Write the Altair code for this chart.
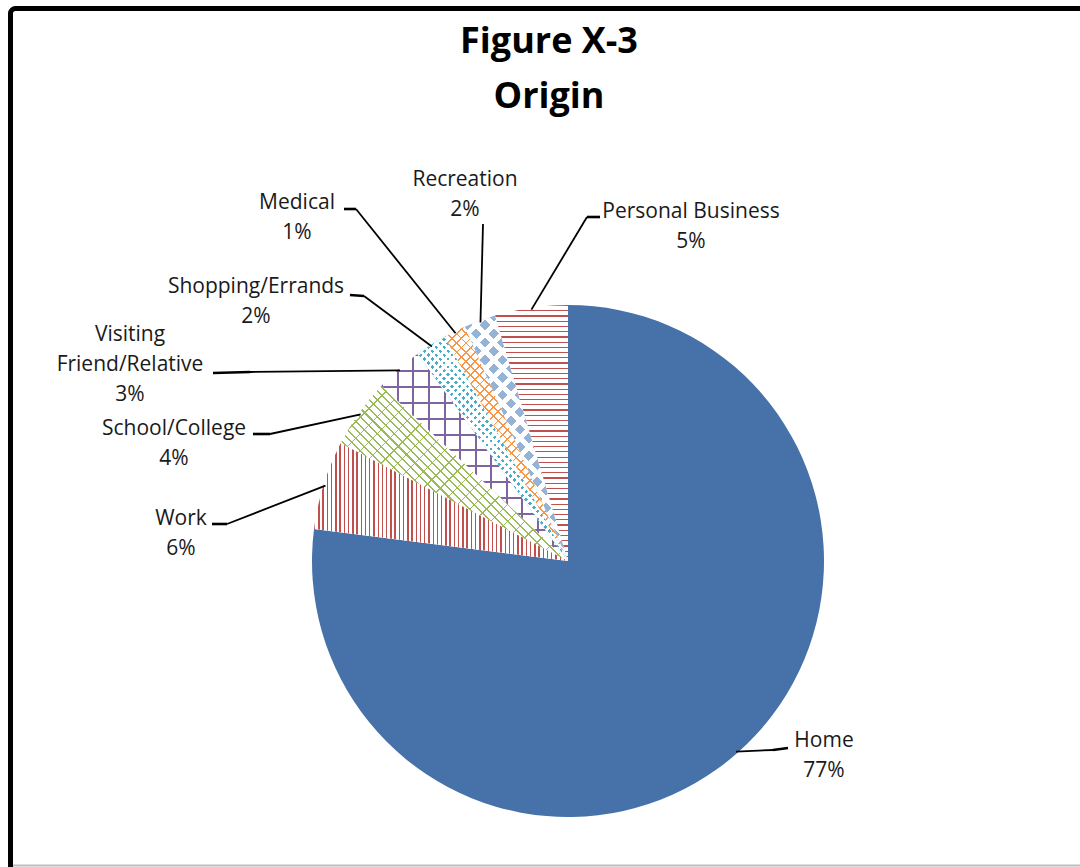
import math
import altair as alt
import pandas as pd

# ---------------- data ----------------
categories = ["Home", "Work", "School/College", "Visiting Friend/Relative",
              "Shopping/Errands", "Medical", "Recreation", "Personal Business"]
label_names = ["Home", "Work", "School/College", "Visiting\nFriend/Relative",
               "Shopping/Errands", "Medical", "Recreation", "Personal Business"]
values = [77.0, 5.6, 4.4, 3.0, 2.0, 1.4, 2.0, 4.6]
title_lines = "Figure X-3\nOrigin"

# ---------------- layout / style ----------------
CX, CY, R = 568, 561, 256
label_x = [824, 181, 174, 130, 256, 297, 465, 691]
label_y = [747, 525, 435, 341, 293, 209, 186, 218]
anchor_x = [788, 212, 253, 213, 350, 344, 483, 600]
anchor_y = [748, 524, 434, 373, 295, 209, 224, 217]
elbow_x = [773, 227, 270, 250, 364, 356, 483, 587]
elbow_y = [750, 524, 434, 372, 296, 209, 224, 217]

base_colors = ["#4672a9", "#ffffff", "#ffffff", "#ffffff",
               "#4bacc6", "#ffffff", "#95b3d7", "#ffffff"]

patterns = {
    "Work": [("v", "#c0504d", 4.2, 1.4)],
    "School/College": [("bs", "#9bbb59", 6.0, 1.5), ("fs", "#9bbb59", 12.0, 1.0)],
    "Visiting Friend/Relative": [("v", "#8064a2", 16.0, 2.0), ("h", "#8064a2", 16.0, 2.0)],
    "Shopping/Errands": [("fs", "#ffffff", 5.5, 3.0), ("bs", "#ffffff", 5.5, 3.0)],
    "Medical": [("fs", "#f79646", 6.5, 1.3), ("bs", "#f79646", 6.5, 1.3)],
    "Recreation": [("fs", "#ffffff", 12.5, 5.0), ("bs", "#ffffff", 12.5, 5.0)],
    "Personal Business": [("h", "#c0504d", 5.2, 1.2)],
}

CLEAR = "rgba(255,255,255,0)"


def slice_bbox(a0, a1):
    pts = [(0.0, 0.0)]
    angs = [a0, a1] + [k * math.pi / 2 for k in range(5) if a0 < k * math.pi / 2 < a1]
    for a in angs:
        pts.append((R * math.sin(a), -R * math.cos(a)))
    xs = [p[0] for p in pts]
    ys = [p[1] for p in pts]
    return max(xs) - min(xs), max(ys) - min(ys)


def stripe_fill(kind, color, period, thick, w, h):
    if kind == "v":
        n = w / period
        geo = dict(x1=0, y1=0, x2=1, y2=0)
    elif kind == "h":
        n = h / period
        geo = dict(x1=0, y1=0, x2=0, y2=1)
    else:
        s = (w + h) / (w * w + h * h)
        n = (w + h) / (period * math.sqrt(2))
        if kind == "fs":
            geo = dict(x1=0, y1=0, x2=s * w, y2=s * h)
        else:
            geo = dict(x1=0, y1=1, x2=s * w, y2=1 - s * h)
    n = max(1, int(round(n)))
    f = min(0.95, thick / period)
    stops = []
    for i in range(n):
        a = round(i / n, 6)
        b = round((i + f) / n, 6)
        c = round((i + 1) / n, 6)
        stops += [{"offset": a, "color": color}, {"offset": b, "color": color},
                  {"offset": b, "color": CLEAR}, {"offset": c, "color": CLEAR}]
    return dict(gradient="linear", stops=stops, **geo)


df = pd.DataFrame({
    "category": categories,
    "name": label_names,
    "value": values,
    "order": list(range(len(categories))),
    "lx": label_x, "ly": label_y,
    "ax": anchor_x, "ay": anchor_y,
    "ex": elbow_x, "ey": elbow_y,
})

base = (
    alt.Chart(df)
    .transform_window(cum="sum(value)", sort=[alt.SortField("order")], frame=[None, 0])
    .transform_calculate(start="datum.cum - datum.value")
    .transform_calculate(ang="2*PI*(datum.cum - datum.value/2)/100")
    .transform_calculate(px=f"{CX} + {R - 2}*sin(datum.ang)")
    .transform_calculate(py=f"{CY} - {R - 2}*cos(datum.ang)")
    .transform_calculate(label="datum.name + '\\n' + format(datum.value, '.0f') + '%'")
)

theta = alt.Theta("start:Q", scale=alt.Scale(domain=[0, 100]))
theta2 = alt.Theta2("cum:Q")

pie = base.mark_arc(outerRadius=R).encode(
    theta=theta, theta2=theta2,
    x=alt.value(CX), y=alt.value(CY),
    color=alt.Color("category:N", scale=alt.Scale(domain=categories, range=base_colors), legend=None),
)

layers = [pie]

# cumulative angles only to size the pattern stripes
cum = 0.0
for cat, v in zip(categories, values):
    a0 = 2 * math.pi * cum / 100
    cum += v
    a1 = 2 * math.pi * cum / 100
    if cat not in patterns:
        continue
    w, h = slice_bbox(a0, a1)
    for kind, color, period, thick in patterns[cat]:
        layers.append(
            base.transform_filter(alt.datum.category == cat)
            .mark_arc(outerRadius=R, fill=stripe_fill(kind, color, period, thick, w, h))
            .encode(theta=theta, theta2=theta2, x=alt.value(CX), y=alt.value(CY))
        )

stub = base.mark_rule(color="black", strokeWidth=2.6).encode(
    x=alt.X("ax:Q", scale=None, axis=None), y=alt.Y("ay:Q", scale=None, axis=None),
    x2="ex:Q", y2="ey:Q",
)
leader = base.mark_rule(color="black", strokeWidth=1.8).encode(
    x=alt.X("ex:Q", scale=None, axis=None), y=alt.Y("ey:Q", scale=None, axis=None),
    x2="px:Q", y2="py:Q",
)
labels = base.mark_text(
    align="center", baseline="alphabetic", lineBreak="\n", lineHeight=30,
    font="Open Sans", fontSize=21, color="#1a1a1a",
).encode(
    x=alt.X("lx:Q", scale=None, axis=None), y=alt.Y("ly:Q", scale=None, axis=None),
    text="label:N",
)

title = alt.Chart(pd.DataFrame({"t": [title_lines]})).mark_text(
    align="center", baseline="alphabetic", lineBreak="\n", lineHeight=55,
    font="Open Sans", fontSize=36, fontWeight="bold", color="#000000",
).encode(x=alt.value(549), y=alt.value(53), text="t:N")

frame_df = pd.DataFrame({"k": [0]})
frame = alt.Chart(frame_df).mark_rect(
    filled=False, stroke="black", strokeWidth=5, cornerRadius=5
).encode(x=alt.value(10.5), x2=alt.value(1110), y=alt.value(8.5), y2=alt.value(920))
bottom = alt.Chart(frame_df).mark_rule(color="#bdbdbd", strokeWidth=2).encode(
    x=alt.value(13), x2=alt.value(1080), y=alt.value(865.5)
)

chart = alt.layer(*layers, leader, stub, labels, title, frame, bottom).properties(
    width=1080, height=867,
    autosize=alt.AutoSizeParams(type="none"),
    padding=0,
    background="white",
).configure_view(stroke=None)

chart.save("out.html", embed_options={"renderer": "svg", "actions": False})
